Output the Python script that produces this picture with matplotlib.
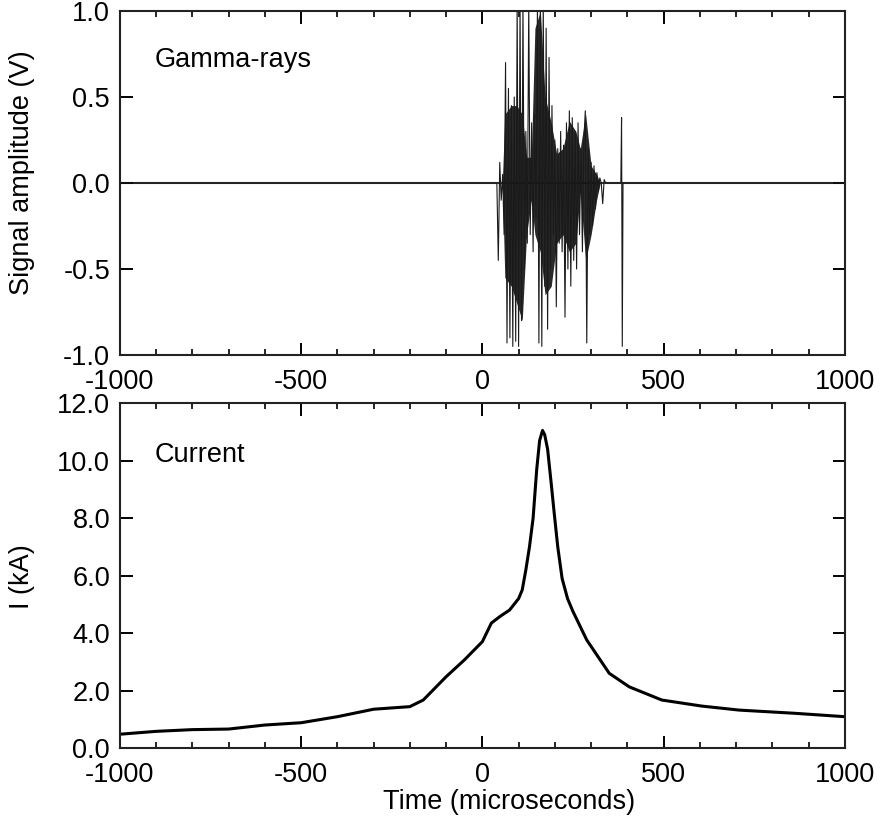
import numpy as np
import matplotlib.pyplot as plt
from matplotlib.ticker import MultipleLocator, FormatStrFormatter

plt.rcParams['font.family'] = ['Liberation Sans', 'DejaVu Sans']
plt.rcParams['axes.unicode_minus'] = False

# gamma-ray signal (V): flat baseline, burst, one late spike
gamma_t = [-1000, 40, 44, 48, 52, 56, 60, 64, 68, 72, 76, 80, 84, 88, 92, 96, 100,
           104, 108, 112, 116, 120, 124, 128, 132, 136, 140, 144, 148, 152, 156,
           160, 164, 168, 172, 176, 180, 184, 188, 192, 196, 200, 204, 208, 212,
           216, 220, 224, 228, 232, 236, 240, 244, 248, 252, 256, 260, 264, 268,
           272, 276, 280, 284, 288, 292, 296, 300, 304, 308, 312, 316, 320, 324,
           328, 332, 336, 340, 382, 384, 386, 388, 1000]
gamma_v = [0.0, 0.0, -0.45, 0.12, -0.10, 0.05, -0.30, 0.70, -0.93, 0.55, -0.90,
           0.45, -0.95, 0.50, -0.92, 1.05, -0.95, 1.05, -0.80, 1.05, -0.50, 0.30,
           -0.35, 1.05, -0.30, 0.35, -0.40, 0.40, -0.20, 1.05, -0.93, 1.05, -0.95,
           1.05, -0.60, 0.90, -0.85, 0.73, -0.50, 0.45, -0.30, 0.25, -0.72, 0.20,
           -0.35, 0.30, -0.40, 0.22, -0.78, 0.35, -0.50, 0.42, -0.60, 0.38, -0.45,
           0.30, -0.50, 0.35, -0.30, 0.20, -0.40, 0.25, 0.42, -0.93, 0.20, -0.30,
           0.12, -0.25, 0.10, -0.15, 0.06, -0.05, 0.03, 0.00, -0.12, 0.02, 0.00,
           0.0, 0.38, -0.95, 0.0, 0.0]

# dense (solid black) core of the burst: upper / lower edge
core_t = [55, 62, 80, 95, 110, 122, 135, 145, 160, 173, 190, 205, 222, 240, 258,
          270, 285, 300, 315, 325]
core_hi = [0.0, 0.40, 0.45, 0.45, 0.40, 0.15, 0.15, 0.90, 1.00, 0.50, 0.35, 0.17,
           0.20, 0.36, 0.30, 0.20, 0.40, 0.10, 0.05, 0.0]
core_lo = [0.0, -0.55, -0.60, -0.70, -0.80, -0.30, -0.10, -0.30, -0.40, -0.65,
           -0.60, -0.35, -0.30, -0.40, -0.35, -0.05, -0.45, -0.30, -0.10, 0.0]

# current (kA)
current_t = [-1000, -900, -800, -700, -600, -500, -400, -300, -200, -163, -100, -50,
             0, 25, 50, 75, 100, 110, 120, 130, 140, 150, 158, 166, 172, 180, 190,
             198, 208, 220, 235, 250, 288, 350, 405, 495, 605, 708, 860, 1000]
current_v = [0.48, 0.58, 0.64, 0.66, 0.80, 0.88, 1.09, 1.35, 1.44, 1.67, 2.48, 3.06,
             3.70, 4.35, 4.59, 4.80, 5.20, 5.50, 6.20, 7.00, 8.00, 9.70, 10.70, 11.05,
             10.90, 10.40, 9.20, 8.20, 7.00, 5.90, 5.20, 4.75, 3.76, 2.60, 2.13, 1.67,
             1.46, 1.32, 1.21, 1.09]

fig = plt.figure(figsize=(8.81, 8.27), dpi=100)
ax1 = fig.add_axes([0.136, 0.5707, 0.823, 0.416])
ax2 = fig.add_axes([0.136, 0.0955, 0.823, 0.417])

for ax in (ax1, ax2):
    ax.set_xlim(-1000, 1000)
    ax.xaxis.set_major_locator(MultipleLocator(500))
    ax.xaxis.set_minor_locator(MultipleLocator(100))
    ax.tick_params(which='both', direction='in', top=True, right=True, labelsize=19.5)
    ax.tick_params(which='major', length=9, width=1.4)
    ax.tick_params(which='minor', length=4, width=1.2)
    ax.tick_params(axis='x', pad=10)
    ax.tick_params(axis='y', which='minor', left=False, right=False)
    ax.tick_params(axis='y', pad=7)
    for s in ax.spines.values():
        s.set_linewidth(1.5)
        s.set_color('#222222')

ax1.axhline(0, color='#333333', lw=1.5, zorder=1)
ax1.fill_between(core_t, core_lo, core_hi, color='#111111', alpha=0.9, lw=0)
ax1.plot(gamma_t, gamma_v, color='#1a1a1a', lw=0.8)
ax1.set_ylim(-1, 1)
ax1.yaxis.set_major_locator(MultipleLocator(0.5))
ax1.yaxis.set_major_formatter(FormatStrFormatter('%.1f'))
ax1.set_ylabel('Signal amplitude (V)', fontsize=19.5)
ax1.yaxis.set_label_coords(-0.117, 0.529)
ax1.text(0.048, 0.837, 'Gamma-rays', transform=ax1.transAxes, fontsize=19.5,
         va='baseline', ha='left')

ax2.plot(current_t, current_v, color='black', lw=2.2)
ax2.set_ylim(0, 12)
ax2.yaxis.set_major_locator(MultipleLocator(2))
ax2.yaxis.set_major_formatter(FormatStrFormatter('%.1f'))
ax2.set_ylabel('I (kA)', fontsize=19.5)
ax2.yaxis.set_label_coords(-0.117, 0.496)
ax2.set_xlabel('Time (microseconds)', fontsize=19.5, va='top')
ax2.xaxis.set_label_coords(0.537, -0.119)
ax2.text(0.048, 0.829, 'Current', transform=ax2.transAxes, fontsize=19.5,
         va='baseline', ha='left')

fig.savefig('out.png', dpi=100)
